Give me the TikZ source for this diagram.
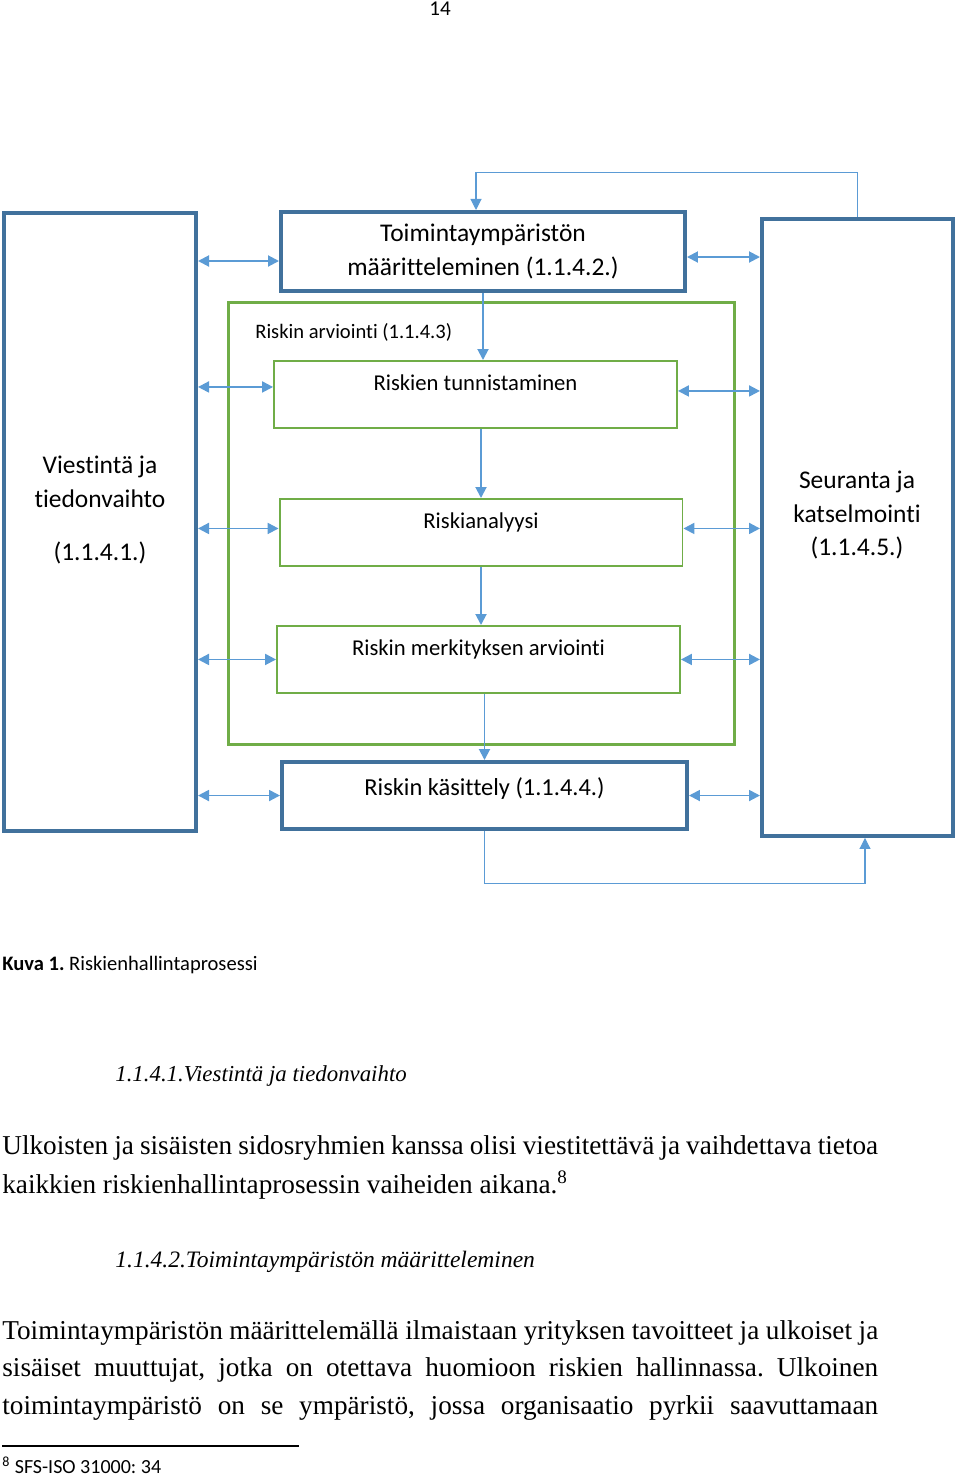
\documentclass[tikz,border=0pt]{standalone}
\usepackage{fontspec}
\setmainfont{Liberation Serif}
\newfontfamily\calibri[Ligatures=CommonOff]{Carlito}
\usepackage{tikz}
\usetikzlibrary{positioning, arrows.meta, calc}
\definecolor{boxblue}{RGB}{65,113,156}
\definecolor{arrblue}{RGB}{91,155,213}
\definecolor{boxgreen}{RGB}{112,173,71}
\frenchspacing

\begin{document}
\begin{tikzpicture}[
    x=0.02cm, y=-0.02cm,
    bigbox/.style={draw=boxblue, line width=2.3pt, rectangle, inner sep=0pt, align=center, font=\calibri\fontsize{14.5}{19}\selectfont},
    stepbox/.style={draw=boxgreen, line width=1.1pt, rectangle, inner sep=0pt, anchor=north, minimum width=8.06cm, text height=0.6cm, text depth=0.74cm, font=\calibri\fontsize{12.9}{15}\selectfont},
    lbl/.style={align=center, inner sep=0pt, font=\calibri\fontsize{14.5}{19}\selectfont},
    txt/.style={anchor=west, inner sep=0pt, font=\fontsize{15.5}{18}\selectfont},
    arr/.style={-{Triangle[length=0.22cm, width=0.22cm]}, draw=arrblue, line width=1.1pt},
    darr/.style={{Triangle[length=0.22cm, width=0.22cm]}-{Triangle[length=0.22cm, width=0.22cm]}, draw=arrblue, line width=1.1pt},
    fb/.style={-{Triangle[length=0.22cm, width=0.22cm]}, draw=arrblue, line width=0.6pt}
]
    \useasboundingbox (0,0) rectangle (960,1478);

    \node[font=\calibri\fontsize{12}{14}\selectfont] (sivu) at (440,9) {14};

    \node[bigbox, minimum width=3.84cm, minimum height=12.36cm] (viest) at (100,522) {};
    \node[lbl] (viestT) at (100,510) {Viestintä ja\\tiedonvaihto\\[0.4cm](1.1.4.1.)};

    \node[bigbox, minimum width=3.82cm, minimum height=12.34cm] (seur) at (857.5,527.5) {};
    \node[lbl] (seurT) at (857,515) {Seuranta ja\\katselmointi\\(1.1.4.5.)};

    \node[bigbox, minimum width=8.08cm, minimum height=1.58cm] (toim) at (483,251.5) {Toimintaympäristön\\määritteleminen (1.1.4.2.)};

    \node[draw=boxgreen, line width=1.7pt, inner sep=0pt, minimum width=10.14cm, minimum height=8.86cm] (arv) at (481.5,523.5) {};
    \node[anchor=west, inner sep=0pt, font=\calibri\fontsize{11.7}{14}\selectfont] (arvT) at (255,332) {Riskin arviointi (1.1.4.3)};

    \node[stepbox] (tunn) at (475.5,360) {Riskien tunnistaminen};
    \node[stepbox] (anal) at (481,498) {Riskianalyysi};
    \node[stepbox] (merk) at (478.5,625) {Riskin merkityksen arviointi};
    \node[stepbox, draw=boxblue, line width=2.3pt, minimum width=8.1cm, text height=0.66cm, text depth=0.68cm, font=\calibri\fontsize{13.9}{17}\selectfont] (kas) at (484.5,760) {Riskin käsittely (1.1.4.4.)};

    \draw[arr] (toim.south) -- (toim.south |- tunn.north);
    \draw[arr] (anal.north |- tunn.south) -- (anal.north);
    \draw[arr] (anal.south) -- (anal.south |- merk.north);
    \draw[arr] (kas.north |- merk.south) -- (kas.north);

    \draw[darr] ($(toim.west -| viest.east)+(0,9.5)$) -- ($(toim.west)+(0,9.5)$);
    \draw[darr] ($(tunn.west -| viest.east)+(0,-7.5)$) -- ($(tunn.west)+(0,-7.5)$);
    \draw[darr] ($(anal.west -| viest.east)+(0,-4)$) -- ($(anal.west)+(0,-4)$);
    \draw[darr] (merk.west -| viest.east) -- (merk.west);
    \draw[darr] (kas.west -| viest.east) -- (kas.west);

    \draw[darr] ($(toim.east)+(0,5.5)$) -- ($(toim.east -| seur.west)+(0,5.5)$);
    \draw[darr] ($(tunn.east)+(0,-3.5)$) -- ($(tunn.east -| seur.west)+(0,-3.5)$);
    \draw[darr] ($(anal.east)+(0,-4)$) -- ($(anal.east -| seur.west)+(0,-4)$);
    \draw[darr] (merk.east) -- (merk.east -| seur.west);
    \draw[darr] (kas.east) -- (kas.east -| seur.west);

    \draw[fb] (seur.north) -- ++(0,-45) -| ($(toim.north)+(-7,0)$);
    \draw[fb] (kas.south) -- ++(0,52) -| ($(seur.south)+(7.5,0)$);

    \node[anchor=west, inner sep=0pt, font=\calibri\fontsize{11.7}{14}\selectfont] (kuva) at (2,965) {\textbf{Kuva 1.} Riskienhallintaprosessi};

    \node[txt, font=\itshape\fontsize{13}{16}\selectfont] (otsikko1) at (115,1076) {1.1.4.1.Viestintä ja tiedonvaihto};
    \node[txt] (kpl1a) at (2,1148) {\makebox[17.52cm][s]{Ulkoisten ja sisäisten sidosryhmien kanssa olisi viestitettävä ja vaihdettava tietoa}};
    \node[txt] (kpl1b) at (2,1185) {kaikkien riskienhallintaprosessin vaiheiden aikana.\textsuperscript{8}};

    \node[txt, font=\itshape\fontsize{13.4}{16}\selectfont] (otsikko2) at (115,1262) {1.1.4.2.Toimintaympäristön määritteleminen};
    \node[txt] (kpl2a) at (2,1333) {\makebox[17.52cm][s]{Toimintaympäristön määrittelemällä ilmaistaan yrityksen tavoitteet ja ulkoiset ja}};
    \node[txt] (kpl2b) at (2,1370) {\makebox[17.52cm][s]{sisäiset muuttujat, jotka on otettava huomioon riskien hallinnassa. Ulkoinen}};
    \node[txt] (kpl2c) at (2,1408) {\makebox[17.52cm][s]{toimintaympäristö on se ympäristö, jossa organisaatio pyrkii saavuttamaan}};

    \draw[line width=0.7pt] (2,1446) -- (299,1446);
    \node[anchor=west, inner sep=0pt, font=\calibri\fontsize{11.4}{13}\selectfont] (alaviite) at (2,1465) {\textsuperscript{8} SFS-ISO 31000: 34};
\end{tikzpicture}
\end{document}
